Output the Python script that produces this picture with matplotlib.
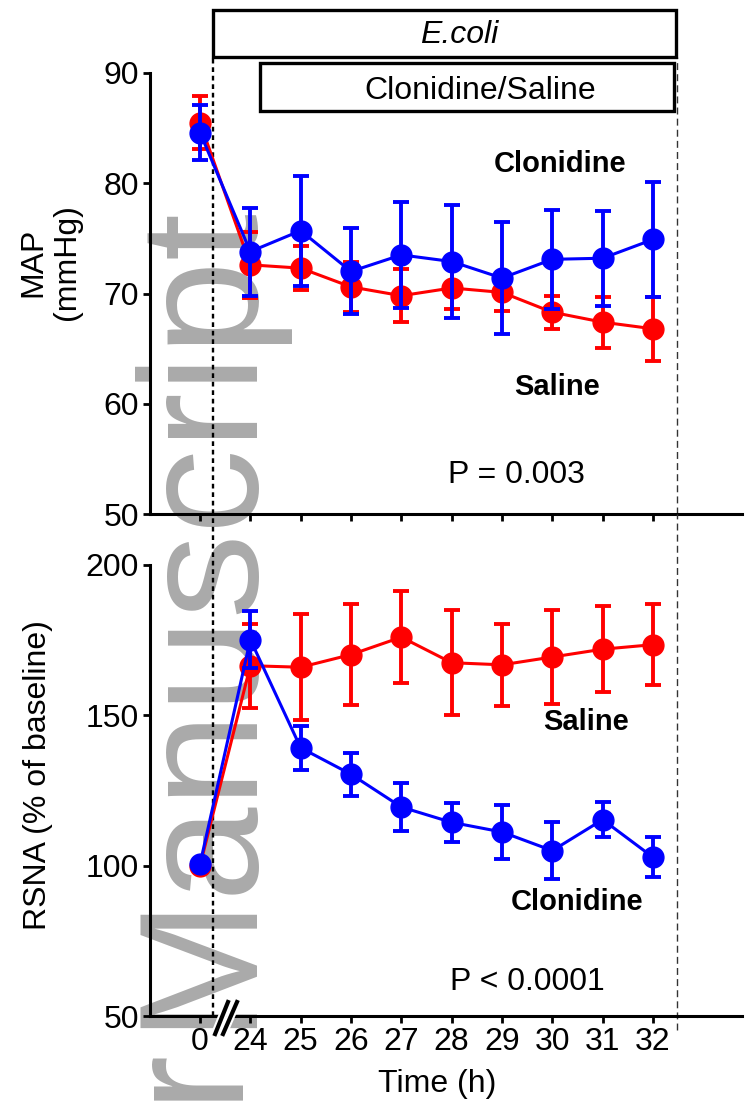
import matplotlib.pyplot as plt
import numpy as np
from matplotlib.patches import Rectangle
from matplotlib.lines import Line2D

plt.rcParams['font.family'] = ['Liberation Sans', 'DejaVu Sans']

# Data
time_labels = ['0', '24', '25', '26', '27', '28', '29', '30', '31', '32']

map_saline = [85.5, 72.6, 72.3, 70.6, 69.8, 70.5, 70.1, 68.3, 67.4, 66.8]
map_saline_err = [2.4, 3.0, 2.0, 2.3, 2.4, 1.9, 1.7, 1.5, 2.3, 2.9]
map_clonidine = [84.6, 73.8, 75.7, 72.0, 73.5, 72.9, 71.4, 73.1, 73.2, 74.9]
map_clonidine_err = [2.5, 4.0, 5.0, 3.9, 4.8, 5.1, 5.1, 4.5, 4.3, 5.2]

rsna_saline = [100.0, 166.5, 166.0, 170.2, 176.0, 167.5, 166.8, 169.4, 172.0, 173.5]
rsna_saline_err = [0.0, 14.0, 17.6, 16.9, 15.3, 17.5, 13.6, 15.5, 14.3, 13.4]
rsna_clonidine = [100.5, 175.2, 139.2, 130.4, 119.5, 114.4, 111.2, 105.0, 115.3, 102.8]
rsna_clonidine_err = [0.5, 9.5, 7.4, 7.2, 7.9, 6.5, 8.9, 9.4, 5.75, 6.65]

W, H = 749, 1106


def fx(px):
    return px / W


def fy(py):
    return 1 - py / H


fig = plt.figure(figsize=(W / 100, H / 100), dpi=100)

# watermark behind everything
fig.text(fx(244), fy(1028), 'Manuscript', rotation=90, rotation_mode='anchor',
         ha='left', va='baseline', fontsize=122, color='#aaaaaa', zorder=-1)
fig.text(fx(244), fy(1054), 'Author', rotation=90, rotation_mode='anchor',
         ha='right', va='baseline', fontsize=122, color='#aaaaaa', zorder=-1)

ax_top = fig.add_axes([fx(150), fy(514), (742 - 150) / W, (514 - 73) / H])
ax_bot = fig.add_axes([fx(150), fy(1016), (742 - 150) / W, (1016 - 565) / H])

x = np.arange(len(time_labels))
xlim = ((150 - 200) / 50.33, (742 - 200) / 50.33)

for ax, sal, sal_e, clo, clo_e, ylim, yticks in [
        (ax_top, map_saline, map_saline_err, map_clonidine, map_clonidine_err, (50, 90), [50, 60, 70, 80, 90]),
        (ax_bot, rsna_saline, rsna_saline_err, rsna_clonidine, rsna_clonidine_err, (50, 200), [50, 100, 150, 200])]:
    ax.set_facecolor('none')
    ax.errorbar(x, sal, yerr=sal_e, fmt='-o', color='#ff0000', ms=15, lw=2.2,
                elinewidth=2.8, capsize=5.5, capthick=2.8, zorder=3)
    ax.errorbar(x, clo, yerr=clo_e, fmt='-o', color='#0000ff', ms=15, lw=2.2,
                elinewidth=2.8, capsize=5.5, capthick=2.8, zorder=4)
    ax.set_xlim(xlim)
    ax.set_ylim(ylim)
    ax.set_yticks(yticks)
    ax.set_xticks(x)
    for s in ['top', 'right']:
        ax.spines[s].set_visible(False)
    for s in ['left', 'bottom']:
        ax.spines[s].set_linewidth(2.2)
    ax.tick_params(width=2.0, length=5, labelsize=23, pad=3)

ax_top.set_xticklabels([])
ax_bot.set_xticklabels(time_labels)

# vertical dashed lines marking E.coli infusion
x_left = (213 - 200) / 50.33
x_right = (677 - 200) / 50.33
ax_top.axvline(x_left, ymin=0, ymax=(514 - 57) / 441, color='black', lw=1.7,
               ls=(0, (2, 1.6)), clip_on=False, zorder=2)
ax_bot.axvline(x_left, ymin=0, ymax=(1016 - 514) / 451, color='black', lw=1.7,
               ls=(0, (2, 1.6)), clip_on=False, zorder=2)
ax_top.axvline(x_right, ymin=0, ymax=(514 - 57) / 441, color='#333333', lw=1.0,
               ls=(0, (5, 3)), clip_on=False, zorder=2)
ax_bot.axvline(x_right, ymin=-0.03, ymax=(1016 - 514) / 451, color='#333333', lw=1.0,
               ls=(0, (5, 3)), clip_on=False, zorder=2)

# axis break marks
tr = ax_bot.get_xaxis_transform()
for x0, x1 in [(0.30, 0.556), (0.457, 0.735)]:
    ax_bot.add_line(Line2D([x0, x1], [-0.04, 0.031], transform=tr, color='white',
                           lw=6, clip_on=False, zorder=5))
for x0, x1 in [(0.30, 0.556), (0.457, 0.735)]:
    ax_bot.add_line(Line2D([x0, x1], [-0.04, 0.031], transform=tr, color='black',
                           lw=3, clip_on=False, zorder=6))

# treatment boxes
fig.add_artist(Rectangle((fx(213), fy(57)), (676 - 213) / W, (57 - 10) / H,
                         transform=fig.transFigure, fill=False, lw=2.4, ec='black'))
fig.add_artist(Rectangle((fx(260), fy(111)), (674 - 260) / W, (111 - 63) / H,
                         transform=fig.transFigure, fill=False, lw=2.4, ec='black'))
fig.text(fx(459), fy(43), 'E.coli', style='italic', fontsize=23, ha='center', va='baseline')
fig.text(fx(480), fy(99), 'Clonidine/Saline', fontsize=23, ha='center', va='baseline')

# group labels and stats
fig.text(fx(560), fy(172), 'Clonidine', fontsize=21, weight='bold', ha='center', va='baseline')
fig.text(fx(557), fy(395), 'Saline', fontsize=21, weight='bold', ha='center', va='baseline')
fig.text(fx(516), fy(483), 'P = 0.003', fontsize=23, ha='center', va='baseline')
fig.text(fx(586), fy(730), 'Saline', fontsize=21, weight='bold', ha='center', va='baseline')
fig.text(fx(577), fy(910), 'Clonidine', fontsize=21, weight='bold', ha='center', va='baseline')
fig.text(fx(527), fy(990), 'P < 0.0001', fontsize=23, ha='center', va='baseline')

# axis titles
fig.text(fx(50), fy(262), 'MAP\n(mmHg)', rotation=90, fontsize=23, ha='center',
         va='center', multialignment='center', linespacing=1.15)
fig.text(fx(38), fy(775), 'RSNA (% of baseline)', rotation=90, fontsize=23,
         ha='center', va='center')
fig.text(fx(437), fy(1092), 'Time (h)', fontsize=23, ha='center', va='baseline')

fig.savefig('out.png', dpi=100)
